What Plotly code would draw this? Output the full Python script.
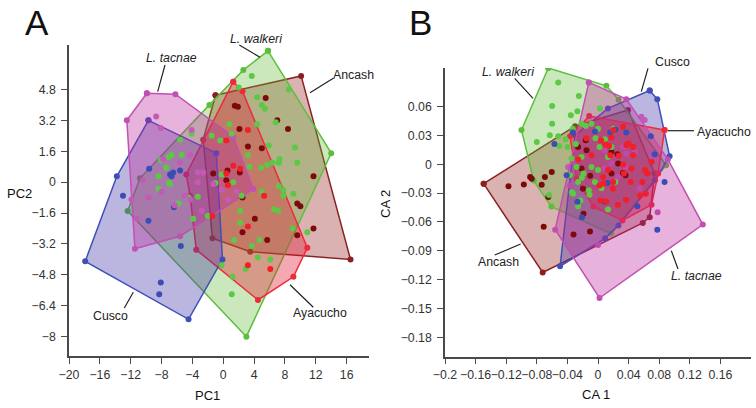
import plotly.graph_objects as go

# ----------------------------- DATA -----------------------------
# Panel A (PCA): hull vertices and interior specimens per group
A_tacnae_hull_x = [-9.9, -6.2, 1.3, 3.9, -5.6, -11.45, -12.5]
A_tacnae_hull_y = [4.6, 4.55, 2.35, -0.35, -2.8, -3.45, 3.2]
A_tacnae_x = [-8.7, -8.1, -4.1, -7.8, -5.6, -4.3, -3.3, -2.6, -10.4, -3.3, 1.7, -8.0, -0.2, -1.3,
              -9.7, -5.0, -6.3, -2.8, -4.3, -11.2, -11.9, 0.6]
A_tacnae_y = [3.4, 2.8, 2.7, 1.2, 1.0, 1.4, 0.5, 0.5, 0.1, 0.0, -0.5, -0.5, -0.4, -0.1,
              -0.8, -0.7, -1.2, -1.5, -0.9, -1.9, -0.9, -0.9]

A_cusco_hull_x = [-9.7, -0.9, -0.1, -4.5, -17.9, -13.8]
A_cusco_hull_y = [3.2, 1.5, -4.0, -7.1, -4.1, 0.3]
A_cusco_x = [-9.6, -13.0, -6.9, -6.5, -5.6, -6.7, -9.7, -5.5, -8.1, -8.3, -6.4]
A_cusco_y = [0.7, -0.7, 0.4, 0.5, 0.6, 0.3, -2.0, -3.3, -5.2, -5.8, -1.3]

A_walkeri_hull_x = [5.8, 14.0, 3.0, -12.4, -10.8, -1.8, 2.6]
A_walkeri_hull_y = [6.8, 1.5, -8.0, -1.5, 0.2, 4.0, 5.8]
A_walkeri_x = [3.7, 8.5, 4.4, 5.0, 5.4, 6.8, 4.4, 0.8, 1.1, 9.3, 5.9, 3.2, 7.3, 7.2, 6.4, 5.7, 9.6,
               4.9, 3.4, -0.2, 1.3, 7.2, 2.0, 7.8, 7.8, 9.1, 5.0, 2.4, 2.2, 6.6, 7.1, 2.2, 3.7,
               4.7, 6.1, 4.5, 2.9, 1.2, 1.1, 9.0, 10.9, 1.4, -0.2, -6.9, -8.4, -5.8, -4.5, -3.3,
               -3.9, -2.0, -7.1, -6.7, -8.1, -7.4, -8.4, -7.0, -5.4, -4.1, -1.0, -1.5, -0.4, -5.6]
A_walkeri_y = [5.5, 4.8, 4.4, 4.0, 3.8, 3.1, 3.0, 3.0, 2.5, 1.8, 1.9, 1.4, 1.2, 1.0, 1.0, 0.9, 1.0,
               0.75, 0.8, 0.4, 0.0, -0.2, 4.9, -0.4, -0.7, -0.6, -0.5, -0.7, -1.5, -1.4, -1.5, -2.1, -3.3,
               -3.0, -4.0, -3.9, -4.5, -4.9, -5.8, -2.4, -2.6, -3.0, -4.3, -0.1, -0.35, -1.1, -0.8, -0.75,
               -1.9, -1.75, 1.3, 1.4, 1.15, 0.75, 0.3, -0.05, 1.4, 2.5, -0.05, 2.4, 2.15, 2.2]

A_ayacucho_hull_x = [1.3, 2.5, 10.9, 9.1, 4.5, -3.5, -4.3, -4.8]
A_ayacucho_hull_y = [5.2, 4.7, -3.4, -4.9, -6.1, -3.5, -0.7, 0.4]
A_ayacucho_x = [3.2, 0.4, 1.3, 2.2, 0.6, 0.4, 5.3, 3.2, 3.2, 6.1, -1.4]
A_ayacucho_y = [2.7, 2.15, 0.85, 0.7, -0.15, 0.45, -0.7, -2.3, -4.3, -4.5, -1.75]

A_ancash_hull_x = [-1.0, 10.1, 16.5, 3.5, -1.4, -2.6]
A_ancash_hull_y = [4.5, 5.5, -4.0, -3.6, -2.9, 2.2]
A_ancash_x = [5.5, 1.5, 1.9, 7.0, 8.4, 2.1, 3.2, 5.0, 11.7, 2.15, 2.5, 9.6, 10.0, 4.1, 2.5, 5.7,
              9.6, 11.7, -1.3, 0.4, 0.55]
A_ancash_y = [4.35, 3.95, 3.9, 3.2, 2.75, 2.75, 1.85, 1.75, 0.3, 0.5, -0.8, -1.1, -1.25, -1.9, -2.6, -3.0,
              -2.75, -2.4, 0.45, 0.1, 0.6]

# Panel B (CVA)
B_tacnae_hull_x = [-0.012, 0.037, 0.0914, 0.137, 0.002, -0.056]
B_tacnae_hull_y = [0.085, 0.0676, 0.005, -0.0627, -0.139, -0.068]
B_tacnae_x = [0.0567, 0.061, 0.0697, 0.074, 0.0328, 0.037, 0.048, 0.0198, 0.009, 0.036, -0.0366,
              -0.0325, -0.039, -0.015, 0.0087, 0.0176, 0.0545, 0.0263, 0.078, 0.0]
B_tacnae_y = [0.0494, 0.046, 0.0128, 0.0076, 0.018, 0.011, 0.0128, 0.011, -0.0045, -0.0028, -0.022,
              0.0024, -0.0028, 0.039, 0.0146, 0.0007, -0.025, -0.0133, -0.05, -0.084]

B_ancash_hull_x = [-0.1495, -0.030, 0.0393, 0.074, 0.0676, 0.0585, -0.0723]
B_ancash_hull_y = [-0.0202, 0.0395, 0.0564, -0.0097, -0.055, -0.061, -0.1125]
B_ancash_x = [-0.117, -0.097, -0.0866, -0.0736, -0.0694, -0.0605, -0.065, -0.0887, -0.071, -0.032,
              -0.0105, -0.0197, -0.0102, -0.019, -0.016, -0.026, -0.015, 0.0176, 0.0254, 0.0326,
              0.036, -0.0215, 0.0263, 0.0176]
B_ancash_y = [-0.023, -0.021, -0.015, -0.0212, -0.0133, -0.008, -0.034, -0.0133, -0.065, -0.073,
              -0.070, -0.0254, -0.012, -0.0515, 0.025, 0.018, 0.0146, 0.0128, 0.0104, -0.009,
              -0.0115, -0.0045, 0.0007, -0.0097]

B_walkeri_hull_x = [-0.065, 0.011, 0.027, 0.089, 0.017, -0.061, -0.084, -0.100]
B_walkeri_hull_y = [0.100, 0.0815, 0.067, -0.001, -0.072, -0.044, -0.017, 0.0355]
B_walkeri_x = [-0.052, -0.025, -0.060, -0.0355, -0.027, -0.060, -0.063, -0.080, -0.0505, -0.052,
               -0.033, -0.029, -0.0215, -0.016, -0.0085, 0.0025, 0.000, 0.020, -0.0033, 0.009,
               0.0176, 0.002, 0.013, -0.0215, -0.0345, -0.028, -0.0085, 0.0, -0.019, -0.0366,
               -0.004, 0.0046, -0.026, 0.0228, -0.0325, -0.012, -0.0397, -0.0423, -0.026, 0.013,
               -0.064, -0.034, -0.021, -0.011, -0.023]
B_walkeri_y = [0.085, 0.071, 0.0605, 0.051, 0.055, 0.042, 0.030, 0.023, 0.019, 0.029,
               0.037, 0.021, 0.042, 0.040, 0.042, 0.058, 0.037, 0.037, 0.027, 0.026,
               0.018, 0.018, 0.0076, 0.0076, 0.006, -0.0028, -0.0028, -0.006, -0.0097, -0.0115,
               -0.0185, -0.025, -0.0185, -0.0185, -0.0306, -0.027, 0.018, 0.026, -0.0436, -0.047,
               -0.032, -0.029, -0.014, -0.0317, -0.0376]

B_cusco_hull_x = [0.0676, 0.0775, 0.0936, 0.0745, 0.0267, 0.0094, -0.0496, -0.0365, -0.030, 0.013]
B_cusco_hull_y = [0.0766, 0.0676, 0.0084, -0.0167, -0.0637, -0.077, -0.106, -0.012, 0.030, 0.058]
B_cusco_x = [-0.057, -0.033, -0.004, 0.0228, 0.037, 0.069, 0.074, 0.087, 0.0124, -0.027, 0.009,
             -0.041, -0.021, 0.0514, 0.016, 0.0775]
B_cusco_y = [0.021, 0.033, 0.034, 0.036, 0.033, 0.029, 0.0104, -0.0185, -0.0195, -0.039, -0.039,
             -0.0115, -0.055, -0.0436, 0.033, -0.068]

B_ayacucho_hull_x = [0.087, -0.0115, -0.0366, -0.028, -0.006, 0.032, 0.070, 0.0786]
B_ayacucho_hull_y = [0.0355, 0.050, 0.029, -0.015, -0.044, -0.0585, -0.042, -0.0097]
B_ayacucho_x = [0.004, 0.0146, 0.0328, 0.037, 0.0458, 0.027, 0.0436, 0.034, 0.0645, 0.058, 0.0428,
                0.013, 0.0198, 0.0068, -0.0085, -0.015, 0.0176, 0.070, 0.026, -0.026, 0.002, 0.02,
                0.0094, 0.0397, 0.016, 0.033, 0.0615, 0.046, 0.0072, 0.0194, 0.0107, 0.0367, 0.055,
                0.003, 0.0625]
B_ayacucho_y = [0.025, 0.019, 0.039, 0.0199, 0.018, 0.0087, -0.0045, -0.0097, -0.0097, -0.0185, -0.0185,
                -0.006, -0.0185, -0.0133, 0.0094, 0.027, 0.0279, 0.0024, -0.042, 0.0049, -0.022, 0.0355,
                0.0206, 0.0216, 0.0094, -0.0003, -0.006, 0.0094, -0.020, -0.0254, -0.0387, -0.037, -0.0324,
                -0.0376, -0.0306]

# Tick values
A_xticks = [-20, -16, -12, -8, -4, 0, 4, 8, 12, 16]
A_yticks = [4.8, 3.2, 1.6, 0, -1.6, -3.2, -4.8, -6.4, -8]
B_xticks = [-0.2, -0.16, -0.12, -0.08, -0.04, 0, 0.04, 0.08, 0.12, 0.16]
B_yticks = [0.06, 0.03, 0, -0.03, -0.06, -0.09, -0.12, -0.15, -0.18]

# Group label texts
A_label_text = ["<i>L. tacnae</i>", "<i>L. walkeri</i>", "Ancash", "Cusco", "Ayacucho"]
B_label_text = ["<i>L. walkeri</i>", "Cusco", "Ayacucho", "Ancash", "<i>L. tacnae</i>"]

# ----------------------------- STYLE / LAYOUT -----------------------------
STY = {
    "tacnae":   dict(edge="#c24fb2", fill="rgba(189,41,155,0.36)", pt="#c45ab8"),
    "cusco":    dict(edge="#3f4fb8", fill="rgba(67,52,166,0.36)", pt="#3b4db4"),
    "walkeri":  dict(edge="#5cbf3c", fill="rgba(89,184,44,0.32)", pt="#5cc846"),
    "ayacucho": dict(edge="#ee2a3a", fill="rgba(226,30,52,0.38)", pt="#f21e28"),
    "ancash":   dict(edge="#8b2020", fill="rgba(146,30,30,0.34)", pt="#7c0a0a"),
}
FONT = "Liberation Sans, Arial, sans-serif"
W, H = 756, 408

# label/leader positions in page pixels
A_label_pos = [(171.7, 58), (256.7, 39.3), (353, 75), (110.8, 316.3), (319.7, 313.3)]
A_leader = [(165, 65, 157.7, 91.7), (239.3, 45, 260, 57.3), (333.3, 78.3, 310, 92.7),
            (124.3, 308, 133.3, 292.3), (290, 284.7, 313.3, 307.3)]
B_label_pos = [(508, 71.7), (672.2, 61.7), (724, 131.7), (498.8, 262.3), (696.3, 276.3)]
B_leader = [(514.7, 78.3, 533, 98.3), (648, 68.3, 641.3, 91.7), (668, 130.7, 694, 130.7),
            (494.7, 255, 520.7, 244), (671.3, 250.7, 678, 269)]

fig = go.Figure()


def fmt(v):
    return ("%g" % v).replace("-", "\u2212")


def add_poly(hx, hy, key, xa, ya):
    s = STY[key]
    fig.add_trace(go.Scatter(
        x=hx + hx[:1], y=hy + hy[:1], mode="lines+markers", fill="toself",
        fillcolor=s["fill"], line=dict(color=s["edge"], width=1.5),
        marker=dict(color=s["edge"], size=6), xaxis=xa, yaxis=ya,
        hoverinfo="skip", showlegend=False))


def add_pts(px, py, key, xa, ya):
    s = STY[key]
    fig.add_trace(go.Scatter(
        x=px, y=py, mode="markers", marker=dict(color=s["pt"], size=6),
        xaxis=xa, yaxis=ya, hoverinfo="skip", showlegend=False))


# Panel A: hulls first (stacking order), then specimens
A_sets = [
    (A_ancash_hull_x, A_ancash_hull_y, A_ancash_x, A_ancash_y, "ancash"),
    (A_walkeri_hull_x, A_walkeri_hull_y, A_walkeri_x, A_walkeri_y, "walkeri"),
    (A_ayacucho_hull_x, A_ayacucho_hull_y, A_ayacucho_x, A_ayacucho_y, "ayacucho"),
    (A_cusco_hull_x, A_cusco_hull_y, A_cusco_x, A_cusco_y, "cusco"),
    (A_tacnae_hull_x, A_tacnae_hull_y, A_tacnae_x, A_tacnae_y, "tacnae"),
]
for hx, hy, px, py, k in A_sets:
    add_poly(hx, hy, k, "x", "y")
for hx, hy, px, py, k in A_sets:
    add_pts(px, py, k, "x", "y")

# Panel B: L. tacnae hull on top of the others, its own specimens beneath it
add_poly(B_ancash_hull_x, B_ancash_hull_y, "ancash", "x2", "y2")
add_poly(B_walkeri_hull_x, B_walkeri_hull_y, "walkeri", "x2", "y2")
add_poly(B_cusco_hull_x, B_cusco_hull_y, "cusco", "x2", "y2")
add_poly(B_ayacucho_hull_x, B_ayacucho_hull_y, "ayacucho", "x2", "y2")
add_pts(B_tacnae_x, B_tacnae_y, "tacnae", "x2", "y2")
add_poly(B_tacnae_hull_x, B_tacnae_hull_y, "tacnae", "x2", "y2")
add_pts(B_ancash_x, B_ancash_y, "ancash", "x2", "y2")
add_pts(B_walkeri_x, B_walkeri_y, "walkeri", "x2", "y2")
add_pts(B_cusco_x, B_cusco_y, "cusco", "x2", "y2")
add_pts(B_ayacucho_x, B_ayacucho_y, "ayacucho", "x2", "y2")

axis_common = dict(showline=True, linecolor="#4a4a4a", linewidth=1.5, ticks="outside",
                   ticklen=6, tickwidth=1.3, tickcolor="#4a4a4a", showgrid=False,
                   zeroline=False, tickangle=0, automargin=False,
                   tickfont=dict(family=FONT, size=12.3, color="#333333"))

fig.update_layout(
    width=W, height=H, autosize=False, margin=dict(l=0, r=0, t=0, b=0, pad=0),
    paper_bgcolor="white", plot_bgcolor="white",
    xaxis=dict(domain=[69 / W, 369 / W], range=[-20, 18.9], anchor="y", ticklabelstandoff=0,
               tickvals=A_xticks, ticktext=[fmt(v) for v in A_xticks], **axis_common),
    yaxis=dict(domain=[1 - 356 / H, 1 - 45 / H], range=[-9.0, 7.1], anchor="x", ticklabelstandoff=3,
               tickvals=A_yticks, ticktext=[fmt(v) for v in A_yticks], **axis_common),
    xaxis2=dict(domain=[445 / W, 751 / W], range=[-0.2, 0.2], anchor="y2", ticklabelstandoff=0,
                tickvals=B_xticks, ticktext=[fmt(v) for v in B_xticks], **axis_common),
    yaxis2=dict(domain=[1 - 356.7 / H, 1 - 68 / H], range=[-0.2, 0.1], anchor="x2", ticklabelstandoff=3,
                tickvals=B_yticks, ticktext=[fmt(v) for v in B_yticks], **axis_common),
)

for texts, poss, leaders in [(A_label_text, A_label_pos, A_leader),
                             (B_label_text, B_label_pos, B_leader)]:
    for txt, (tx, ty), (x0, y0, x1, y1) in zip(texts, poss, leaders):
        fig.add_annotation(x=tx / W, y=1 - ty / H, xref="paper", yref="paper", text=txt,
                           showarrow=False, xanchor="center", yanchor="middle",
                           font=dict(family=FONT, size=12.3, color="#222222"))
        fig.add_shape(type="line", x0=x0 / W, y0=1 - y0 / H, x1=x1 / W, y1=1 - y1 / H,
                      xref="paper", yref="paper", line=dict(color="#222222", width=1.2))

paper_text = [
    ("A", 36.7, 22, 35, 0),
    ("B", 420.7, 22, 35, 0),
    ("PC2", 19.5, 193, 13, 0),
    ("PC1", 207.7, 395.7, 13, 0),
    ("CA 2", 385, 204, 13, -90),
    ("CA 1", 596.3, 394.7, 13, 0),
]
for txt, px, py, sz, ang in paper_text:
    fig.add_annotation(x=px / W, y=1 - py / H, xref="paper", yref="paper", text=txt,
                       showarrow=False, textangle=ang, xanchor="center", yanchor="middle",
                       font=dict(family=FONT, size=sz, color="#111111"))

fig.write_html("out.html", config={"displayModeBar": False},
               post_script="document.body.style.margin='0px';")
